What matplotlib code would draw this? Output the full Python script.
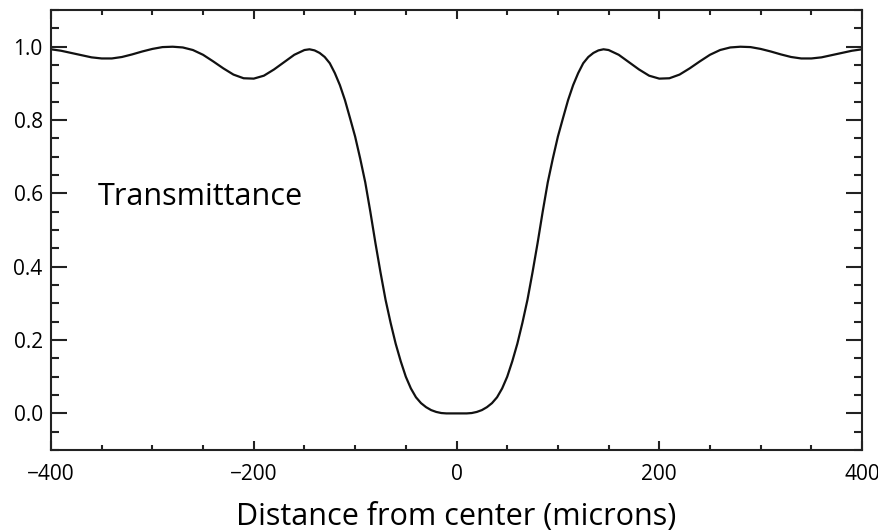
import numpy as np
import matplotlib.pyplot as plt
from matplotlib.ticker import MultipleLocator

# transmittance profile across the mask, distance in microns
distance = [-400, -390, -380, -370, -360, -350, -340, -330, -320, -310,
            -300, -290, -280, -270, -260, -250, -240, -230, -220, -210,
            -200, -190, -180, -170, -160, -150, -145, -140, -135, -130,
            -125, -120, -115, -110, -105, -100, -95, -90, -85, -80,
            -75, -70, -65, -60, -55, -50, -45, -40, -35, -30,
            -25, -20, -15, -10, -5, 0, 5, 10, 15, 20,
            25, 30, 35, 40, 45, 50, 55, 60, 65, 70,
            75, 80, 85, 90, 95, 100, 105, 110, 115, 120,
            125, 130, 135, 140, 145, 150, 160, 170, 180, 190,
            200, 210, 220, 230, 240, 250, 260, 270, 280, 290,
            300, 310, 320, 330, 340, 350, 360, 370, 380, 390, 400]
transmittance = [0.993, 0.989, 0.983, 0.977, 0.971, 0.968, 0.968, 0.972, 0.979, 0.987,
                 0.994, 0.999, 1.000, 0.998, 0.991, 0.978, 0.960, 0.941, 0.924, 0.914,
                 0.913, 0.921, 0.938, 0.958, 0.978, 0.991, 0.993, 0.990, 0.983, 0.972,
                 0.955, 0.928, 0.895, 0.854, 0.805, 0.755, 0.695, 0.630, 0.550, 0.465,
                 0.385, 0.310, 0.247, 0.190, 0.142, 0.100, 0.068, 0.044, 0.028, 0.017,
                 0.009, 0.004, 0.001, 0.000, 0.000, 0.000, 0.000, 0.000, 0.001, 0.004,
                 0.009, 0.017, 0.028, 0.044, 0.068, 0.100, 0.142, 0.190, 0.247, 0.310,
                 0.385, 0.465, 0.550, 0.630, 0.695, 0.755, 0.805, 0.854, 0.895, 0.928,
                 0.955, 0.972, 0.983, 0.990, 0.993, 0.991, 0.978, 0.958, 0.938, 0.921,
                 0.913, 0.914, 0.924, 0.941, 0.960, 0.978, 0.991, 0.998, 1.000, 0.999,
                 0.994, 0.987, 0.979, 0.972, 0.968, 0.968, 0.971, 0.977, 0.983, 0.989, 0.993]

plt.rcParams['font.family'] = ['Open Sans', 'DejaVu Sans']

fig = plt.figure(figsize=(8.79, 5.32), dpi=100)
ax = fig.add_axes([0.058, 0.154, 0.9227, 0.8271])

ax.plot(distance, transmittance, color='#111111', lw=1.6)

ax.set_xlim(-400, 400)
ax.set_ylim(-0.1, 1.1)
ax.xaxis.set_major_locator(MultipleLocator(200))
ax.xaxis.set_minor_locator(MultipleLocator(50))
ax.yaxis.set_major_locator(MultipleLocator(0.2))
ax.yaxis.set_minor_locator(MultipleLocator(0.05))
ax.yaxis.set_major_formatter(plt.FuncFormatter(lambda v, pos: '%.1f' % v))

for side in ax.spines.values():
    side.set_linewidth(1.5)
    side.set_color('#222222')
ax.tick_params(axis='both', which='both', direction='in', top=True, right=True,
               width=1.5, color='#222222', labelsize=15)
ax.tick_params(axis='x', which='major', length=6.5, pad=10)
ax.tick_params(axis='x', which='minor', length=3.5)
ax.tick_params(axis='y', which='major', length=11.5, pad=6)
ax.tick_params(axis='y', which='minor', length=6)

ax.set_xlabel('Distance from center (microns)', fontsize=22, labelpad=12)
ax.text(-353.6, 0.568, 'Transmittance', fontsize=22, ha='left', va='baseline')

fig.savefig('out.png', dpi=100)
plt.close(fig)
